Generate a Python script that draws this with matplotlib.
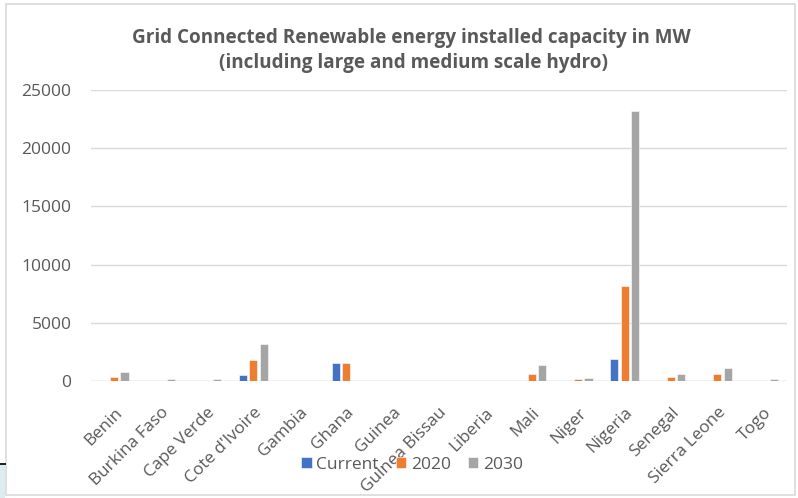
import matplotlib
matplotlib.use("Agg")
import matplotlib.pyplot as plt
from matplotlib.patches import Rectangle
import numpy as np

countries = ["Benin", "Burkina Faso", "Cape Verde", "Cote d'Ivoire", "Gambia", "Ghana",
             "Guinea", "Guinea Bissau", "Liberia", "Mali", "Niger", "Nigeria",
             "Senegal", "Sierra Leone", "Togo"]
current = [0, 0, 0, 490, 0, 1550, 0, 0, 0, 0, 0, 1890, 0, 0, 0]
y2020 = [320, 0, 0, 1800, 0, 1550, 0, 0, 0, 600, 140, 8150, 320, 600, 0]
y2030 = [780, 200, 145, 3210, 0, 0, 0, 0, 0, 1350, 230, 23200, 600, 1150, 200]
series_names = ["Current", "2020", "2030"]
colors = ["#4472C4", "#ED7D31", "#A5A5A5"]
yticks = [0, 5000, 10000, 15000, 20000, 25000]

plt.rcParams['font.family'] = ['Open Sans', 'DejaVu Sans']
fig = plt.figure(figsize=(7.98, 4.98), dpi=100)

# chart frame and stray screenshot artifacts
fig.patches.append(Rectangle((6/798, 1-495/498), 789/798, 491/498, transform=fig.transFigure,
                             fill=False, edgecolor="#d9d9d9", linewidth=1.2))
fig.patches.append(Rectangle((0, 0), 5/798, 34/498, transform=fig.transFigure,
                             facecolor="#dcedf2", edgecolor="none"))
fig.patches.append(Rectangle((0, 1-465/498), 6/798, 2/498, transform=fig.transFigure,
                             facecolor="#222222", edgecolor="none"))

ax = fig.add_axes([91/798, 1-381/498, 696/798, 291/498])
x = np.arange(len(countries))
w = 0.1745
step = 0.2216
for i, (vals, name, c) in enumerate(zip([current, y2020, y2030], series_names, colors)):
    ax.bar(x + (i-1)*step, vals, width=w, color=c, label=name, zorder=3,
           edgecolor="white", linewidth=0.4)

ax.set_xlim(-0.5, len(countries)-0.5)
ax.set_ylim(0, 25000)
ax.set_yticks(yticks)
ax.set_yticklabels([str(t) for t in yticks], fontsize=12.5, color="#595959")
ax.yaxis.grid(True, color="#d9d9d9", linewidth=1, zorder=0)
ax.set_axisbelow(True)
for s in ["top", "right", "left", "bottom"]:
    ax.spines[s].set_visible(False)
ax.axhline(0, color="#d9d9d9", linewidth=1, zorder=1)
ax.tick_params(axis="both", length=0)
ax.tick_params(axis="y", pad=14)
ax.set_xticks(x)
ax.set_xticklabels(countries, rotation=45, ha="right", rotation_mode="anchor",
                   fontsize=12.3, color="#595959")
ax.tick_params(axis="x", pad=17)

fig.text(411/798, 1-38/498, "Grid Connected Renewable energy installed capacity in MW",
         ha="center", va="center", fontsize=13.6, fontweight="bold", color="#595959")
fig.text(413/798, 1-63/498, "(including large and medium scale hydro)",
         ha="center", va="center", fontsize=13.6, fontweight="bold", color="#595959")

fig.legend(loc="center", bbox_to_anchor=(412/798, 1-465/498), ncol=3, frameon=False,
           fontsize=12.5, handlelength=0.6, handleheight=0.6, handletextpad=0.25,
           columnspacing=1.0, labelcolor="#595959")

fig.savefig("out.png", dpi=100)
